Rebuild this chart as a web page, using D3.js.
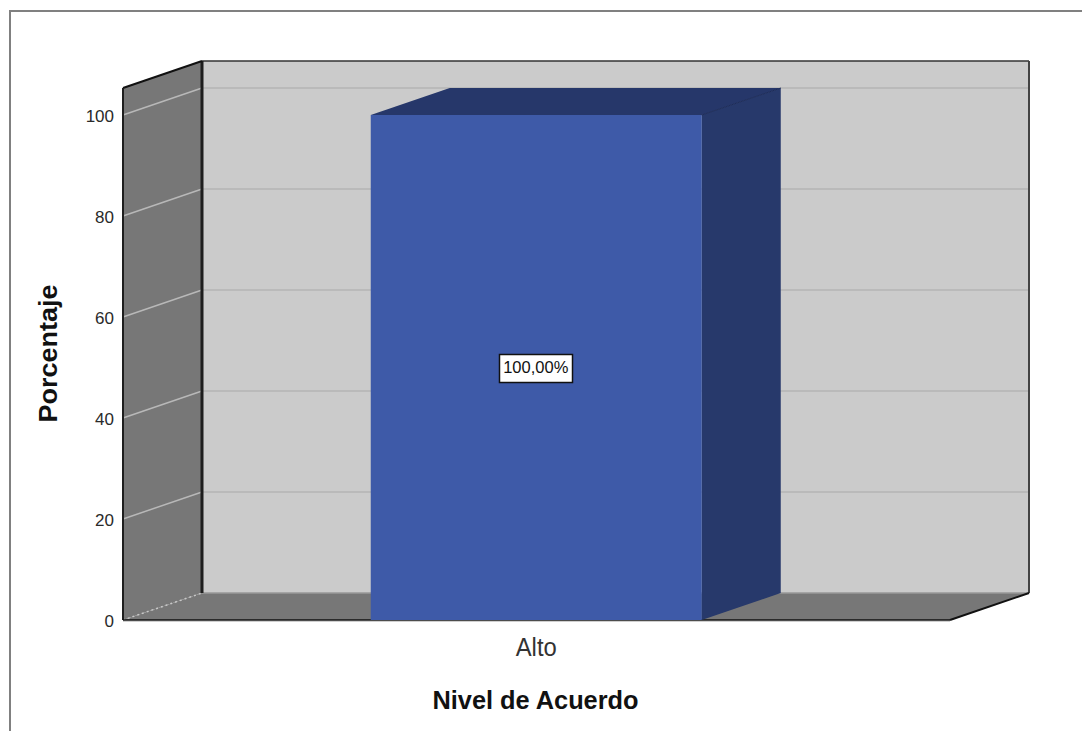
<!DOCTYPE html>
<html lang="es">
<head>
<meta charset="utf-8">
<title>Nivel de Acuerdo</title>
<script src="https://cdn.jsdelivr.net/npm/d3@7"></script>
<style>
  html, body { margin: 0; padding: 0; background: #fff; }
  svg { display: block; }
  text { font-family: "Liberation Sans", Arial, sans-serif; fill: #1a1a1a; }
</style>
</head>
<body>
<svg id="chart" width="1082" height="731"></svg>
<script>
// Chart content
const categories = ["Alto"];
const percentages = [100];
const valueLabels = ["100,00%"];
const yTicks = [0, 20, 40, 60, 80, 100];
const xTitle = "Nivel de Acuerdo";
const yTitle = "Porcentaje";

const svg = d3.select("#chart");

// Oblique projection: the back of the box sits up and to the right of the front
const depthX = 79, depthY = -27;
const frontLeft = 123, frontRight = 950, frontBottom = 620, frontTop = 88;

const y = d3.scaleLinear().domain([0, 105.35]).range([frontBottom, frontTop]);
const x = d3.scaleBand().domain(categories).range([frontLeft - 0.5, frontRight])
  .paddingInner(0.6).paddingOuter(0.3);

const poly = (pts, fill) => svg.append("polygon")
  .attr("points", pts.map(p => p.join(",")).join(" ")).attr("fill", fill);
const seg = (x1, y1, x2, y2, stroke, width, dash) => svg.append("line")
  .attr("x1", x1).attr("y1", y1).attr("x2", x2).attr("y2", y2)
  .attr("stroke", stroke).attr("stroke-width", width)
  .attr("stroke-dasharray", dash || null);

// Outer chart frame, open on the right and bottom
svg.append("path").attr("d", "M10,731V11H1082")
  .attr("fill", "none").attr("stroke", "#808080").attr("stroke-width", 2);

// Box walls
const backLeft = frontLeft + depthX, backRight = frontRight + depthX;
const backTop = frontTop + depthY, backBottom = frontBottom + depthY;
poly([[backLeft, backTop], [backRight, backTop], [backRight, backBottom], [backLeft, backBottom]], "#cbcbcb");
poly([[frontLeft, frontTop], [backLeft, backTop], [backLeft, backBottom], [frontLeft, frontBottom]], "#777777");
poly([[frontLeft, frontBottom], [backLeft, backBottom], [backRight, backBottom], [frontRight, frontBottom]], "#777777");

// Gridlines wrap from the side wall onto the back wall
yTicks.filter(d => d > 0).forEach(d => {
  seg(frontLeft, y(d), backLeft, y(d) + depthY, "#b8b8b8", 1.5);
  seg(backLeft, y(d) + depthY, backRight, y(d) + depthY, "#bababa", 2);
});
seg(backLeft, backBottom, backRight, backBottom, "#999999", 1.5);
seg(frontLeft, frontBottom, backLeft, backBottom, "#c8c8c8", 1.5, "2 3");

// Box edges
seg(backLeft, backTop, backRight, backTop, "#333333", 1.5);
seg(backRight, backTop, backRight, backBottom, "#444444", 2);
seg(backLeft, backTop, backLeft, backBottom, "#1e1e1e", 3);
seg(frontLeft, frontTop, backLeft, backTop, "#111111", 2);
seg(frontLeft, frontTop, frontLeft, frontBottom, "#1e1e1e", 2);
seg(frontRight, frontBottom, backRight, backBottom, "#111111", 2);
seg(frontLeft, frontBottom + 1.5, frontRight, frontBottom + 1.5, "#cfcfcf", 1);
seg(frontLeft, frontBottom, frontRight, frontBottom, "#111111", 1.5);

// Extruded bars
categories.forEach((c, i) => {
  const x0 = x(c), x1 = x0 + x.bandwidth(), top = y(percentages[i]), base = y(0);
  poly([[x0, top], [x1, top], [x1 + depthX, top + depthY], [x0 + depthX, top + depthY]], "#26376a");
  poly([[x1, top], [x1 + depthX, top + depthY], [x1 + depthX, base + depthY], [x1, base]], "#27396b");
  poly([[x0, top], [x1, top], [x1, base], [x0, base]], "#3e5aa8");
  seg(x1, top, x1 + depthX, top + depthY, "#1e2d5a", 1);

  // Value label in a white box at the middle of the bar
  const cx = x0 + x.bandwidth() / 2 - 0.5, cy = y(percentages[i] / 2);
  const box = svg.append("rect").attr("fill", "#fff").attr("stroke", "#111").attr("stroke-width", 1.5);
  const label = svg.append("text").attr("x", cx).attr("y", cy)
    .attr("text-anchor", "middle").attr("dy", "0.36em")
    .style("font-size", "16.5px").style("fill", "#111").text(valueLabels[i]);
  const b = label.node().getBBox();
  box.attr("x", Math.round(cx - b.width / 2 - 4) + 0.5).attr("y", Math.round(cy - 14) + 0.5)
    .attr("width", Math.round(b.width + 8)).attr("height", 28);
});

// Axes
const yAxis = svg.append("g").attr("transform", `translate(${frontLeft},0)`)
  .call(d3.axisLeft(y).tickValues(yTicks).tickSize(0).tickPadding(9));
yAxis.select(".domain").remove();
yAxis.selectAll("text").style("font-size", "17px").style("fill", "#2a2a2a").attr("dy", "0.36em");

const xAxis = svg.append("g").attr("transform", `translate(0,${frontBottom})`)
  .call(d3.axisBottom(x).tickSize(0).tickPadding(17.5));
xAxis.select(".domain").remove();
xAxis.selectAll("text").style("font-size", "26px").style("fill", "#333")
  .attr("textLength", 41).attr("lengthAdjust", "spacingAndGlyphs");

// Axis titles
svg.append("text").attr("x", 535.5).attr("y", 709).attr("text-anchor", "middle")
  .style("font-size", "25px").style("font-weight", "bold").style("fill", "#111")
  .attr("textLength", 206).attr("lengthAdjust", "spacingAndGlyphs").text(xTitle);
svg.append("text").attr("transform", "translate(57,353.5) rotate(-90)").attr("text-anchor", "middle")
  .style("font-size", "26px").style("font-weight", "bold").style("fill", "#111")
  .attr("textLength", 138).attr("lengthAdjust", "spacingAndGlyphs").text(yTitle);
</script>
</body>
</html>
